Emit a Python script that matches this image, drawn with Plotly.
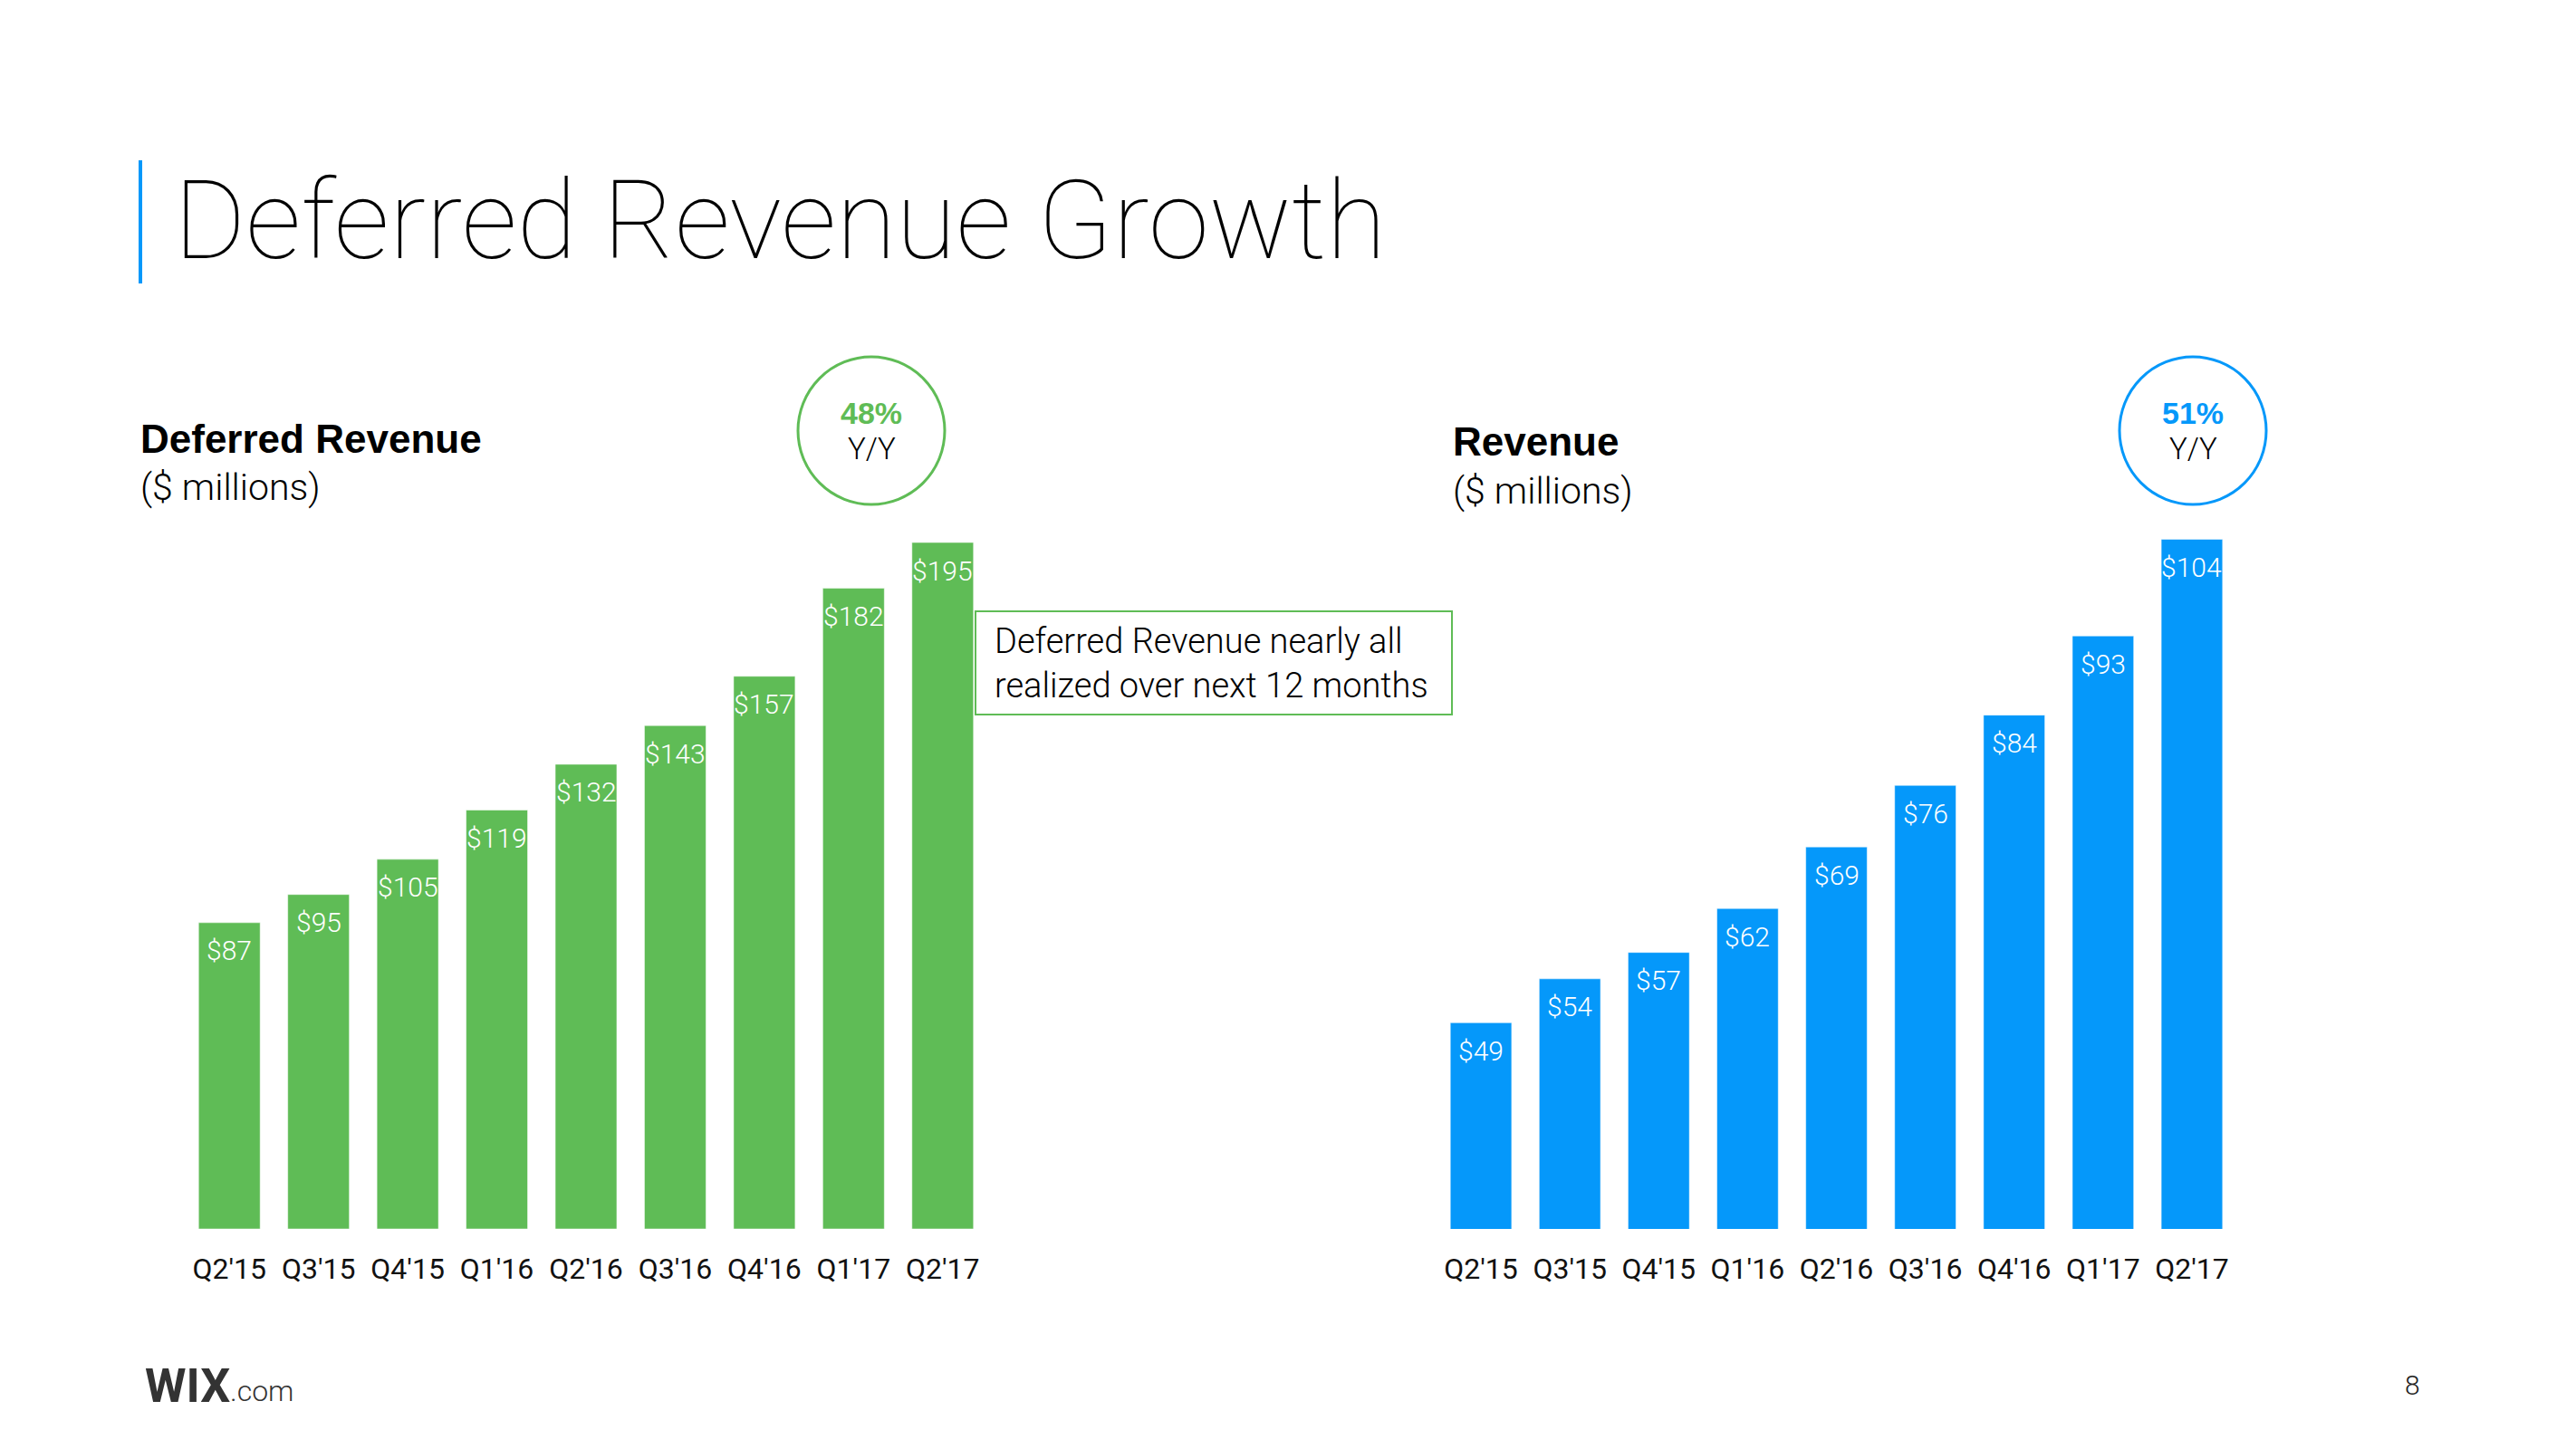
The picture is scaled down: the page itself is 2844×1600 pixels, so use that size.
import plotly.graph_objects as go

# ------------------------------------------------------------------------------------------------------------ Data
QUARTERS = ["Q2'15", "Q3'15", "Q4'15", "Q1'16", "Q2'16", "Q3'16", "Q4'16", "Q1'17", "Q2'17"]
DEFERRED_REVENUE = [87, 95, 105, 119, 132, 143, 157, 182, 195]
REVENUE = [49, 54, 57, 62, 69, 76, 84, 93, 104]
DEFERRED_GROWTH = "48%"
REVENUE_GROWTH = "51%"

GREEN = "#5FBC56"
BLUE = "#0598FA"
PAGE_MARGIN = 8  # default body margin of the html page
W, H = 2844 - 2 * PAGE_MARGIN, 1600 - 2 * PAGE_MARGIN
BODY_FONT = "Liberation Sans"
LIGHT_FONT = "Roboto"


def px_x(x):
    return (x - PAGE_MARGIN) / W


def px_y(y):
    return 1 - (y - PAGE_MARGIN) / H


def add_text(fig, x, y, text, size, color="#000000", anchor="left", family=BODY_FONT, weight=None):
    font = dict(family=family, size=size, color=color)
    if weight:
        font["weight"] = weight
    fig.add_annotation(
        x=px_x(x), y=px_y(y), xref="paper", yref="paper", text=text, showarrow=False,
        xanchor=anchor, yanchor="middle", align="left", font=font,
    )


fig = go.Figure()
fig.add_bar(x=QUARTERS, y=DEFERRED_REVENUE, marker_color=GREEN, xaxis="x", yaxis="y", hoverinfo="skip")
fig.add_bar(x=QUARTERS, y=REVENUE, marker_color=BLUE, xaxis="x2", yaxis="y2", hoverinfo="skip")

# value labels sit just under the top of each bar
for xref, yref, values in (("x", "y", DEFERRED_REVENUE), ("x2", "y2", REVENUE)):
    for q, v in zip(QUARTERS, values):
        fig.add_annotation(
            x=q, y=v, xref=xref, yref=yref, text=f"${v}", showarrow=False, yanchor="middle", yshift=-31,
            font=dict(family=LIGHT_FONT, size=30, color="white", weight=300),
        )

axis_font = dict(family=LIGHT_FONT, size=32, color="#111111")
y_domain = [px_y(1357), px_y(595)]
fig.update_layout(
    width=W,
    height=H,
    template="plotly_white",
    paper_bgcolor="white",
    plot_bgcolor="white",
    margin=dict(l=0, r=0, t=0, b=0),
    showlegend=False,
    bargap=0.31,
    xaxis=dict(domain=[px_x(204), px_x(1090)], range=[-0.5, 8.5], showgrid=False, showline=False,
               ticks="", tickfont=axis_font, ticklabelstandoff=22),
    yaxis=dict(domain=y_domain, range=[0, 196.04], visible=False),
    xaxis2=dict(domain=[px_x(1586), px_x(2469)], range=[-0.5, 8.5], showgrid=False, showline=False,
                ticks="", tickfont=axis_font, anchor="y2", ticklabelstandoff=22),
    yaxis2=dict(domain=y_domain, range=[25.55, 104.05], visible=False, anchor="x2"),
)

# ------------------------------------------------------------------------------------------------------------ Title
fig.add_shape(type="rect", xref="paper", yref="paper", x0=px_x(153), x1=px_x(157), y0=px_y(313), y1=px_y(177),
              fillcolor=BLUE, line_width=0)
add_text(fig, 190, 244, "Deferred Revenue Growth", 121, family=LIGHT_FONT, weight=100)

# ------------------------------------------------------------------------------------------------------------ Headers
add_text(fig, 153, 484, "<b>Deferred Revenue</b>", 44)
add_text(fig, 153, 538, "($ millions)", 41, family=LIGHT_FONT, weight=300)
add_text(fig, 1602, 488, "<b>Revenue</b>", 44)
add_text(fig, 1602, 542, "($ millions)", 41, family=LIGHT_FONT, weight=300)

# growth circles
for cx, color, pct in ((962, GREEN, DEFERRED_GROWTH), (2421, BLUE, REVENUE_GROWTH)):
    fig.add_shape(type="circle", xref="paper", yref="paper", x0=px_x(cx - 81), x1=px_x(cx + 81),
                  y0=px_y(557), y1=px_y(394), line=dict(color=color, width=3))
    add_text(fig, cx, 456, f"<b>{pct}</b>", 34, color=color, anchor="center")
    add_text(fig, cx, 495, "Y/Y", 33, anchor="center", family=LIGHT_FONT, weight=300)

# callout box
fig.add_shape(type="rect", xref="paper", yref="paper", x0=px_x(1077), x1=px_x(1603), y0=px_y(789), y1=px_y(675),
              line=dict(color=GREEN, width=2), fillcolor="rgba(0,0,0,0)")
add_text(fig, 1096, 732, "Deferred Revenue nearly all<br>realized over next 12 months", 38,
         family=LIGHT_FONT, weight=300)

# footer
add_text(fig, 158, 1530, "<b>WIX</b>", 52, color="#333333", family="Roboto")
add_text(fig, 252, 1536, ".com", 32, color="#333333", family=LIGHT_FONT, weight=300)
add_text(fig, 2663, 1529, "8", 30, color="#222222", anchor="center", family=LIGHT_FONT, weight=300)

fig.write_html("out.html")
